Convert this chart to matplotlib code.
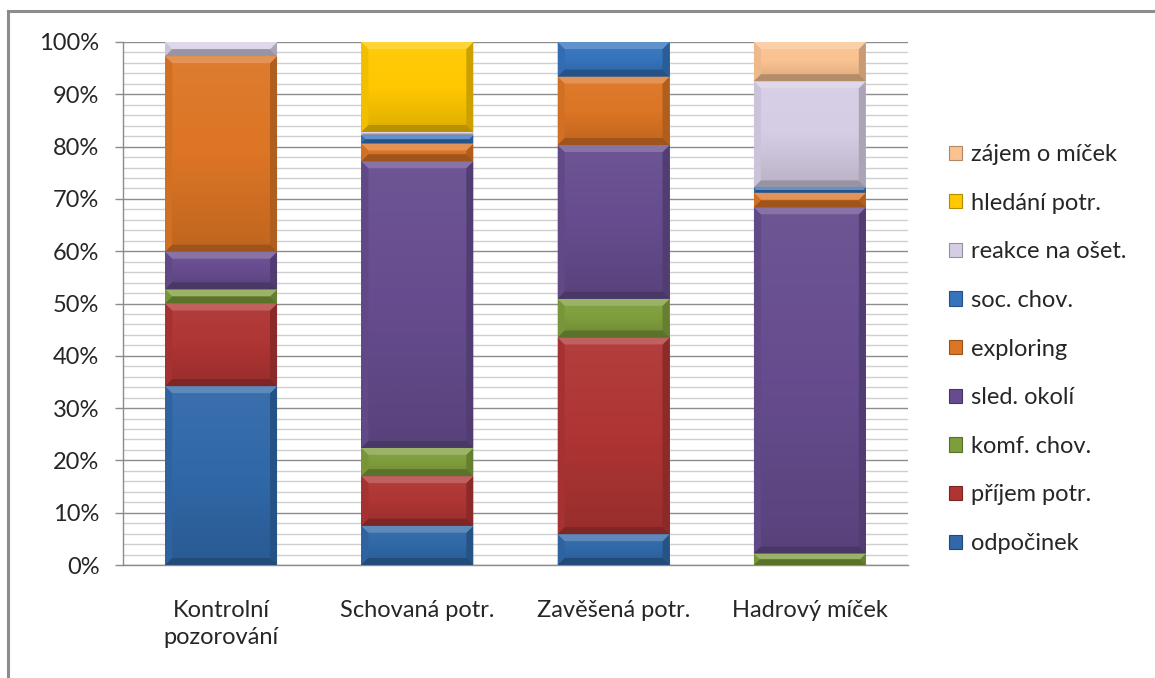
import matplotlib
matplotlib.use("Agg")
import matplotlib.pyplot as plt
import numpy as np
from matplotlib.colors import to_rgb, LinearSegmentedColormap
from matplotlib.patches import Polygon, Patch
from matplotlib.lines import Line2D
from matplotlib.ticker import MultipleLocator

plt.rcParams['font.family'] = ['Lato', 'DejaVu Sans']

categories = ["Kontrolní\npozorování", "Schovaná potr.", "Zavěšená potr.", "Hadrový míček"]

series_names = ["odpočinek", "příjem potr.", "komf. chov.", "sled. okolí", "exploring",
                "soc. chov.", "reakce na ošet.", "hledání potr.", "zájem o míček"]

odpocinek = [34.2, 7.5, 5.9, 0.0]
prijem_potr = [15.8, 9.5, 37.6, 0.0]
komf_chov = [2.7, 5.4, 7.4, 2.2]
sled_okoli = [7.2, 54.8, 29.4, 66.2]
exploring = [37.4, 3.4, 13.1, 2.8]
soc_chov = [0.0, 1.6, 6.6, 1.0]
reakce_na_oset = [2.7, 0.6, 0.0, 20.3]
hledani_potr = [0.0, 17.2, 0.0, 0.0]
zajem_o_micek = [0.0, 0.0, 0.0, 7.5]

series_values = [odpocinek, prijem_potr, komf_chov, sled_okoli, exploring,
                 soc_chov, reakce_na_oset, hledani_potr, zajem_o_micek]

colors = ["#3068A8", "#AE3533", "#7E9E3C", "#664C8E", "#DC7524",
          "#3573BC", "#D5CDE4", "#FFC800", "#FAC291"]

ytick_labels = ["0%", "10%", "20%", "30%", "40%", "50%", "60%", "70%", "80%", "90%", "100%"]


def mix(c, other, t):
    c = np.array(to_rgb(c))
    o = np.array(to_rgb(other))
    return tuple(c * (1 - t) + o * t)


W, H = 1155, 678
fig = plt.figure(figsize=(W / 100, H / 100), dpi=100)
ax = fig.add_axes([123 / W, 1 - 565 / H, (908 - 123) / W, (565 - 42) / H])

x = np.arange(len(categories))
bar_w = 0.57
bottom = np.zeros(len(categories))
containers = []
for vals, col, name in zip(series_values, colors, series_names):
    v = np.array(vals)
    bc = ax.bar(x, v, bar_w, bottom=bottom, color=col, label=name, zorder=3, linewidth=0)
    containers.append((bc, col))
    bottom += v

ax.set_xlim(-0.5, len(categories) - 0.5)
ax.set_ylim(0, 100)

# pixel scale for the bevel decoration
px_x = len(categories) / (908 - 123)
px_y = 100 / (565 - 42)

for bc, col in containers:
    cmap = LinearSegmentedColormap.from_list(
        "g", [mix(col, "black", 0.13), col, mix(col, "white", 0.05)])
    for p in bc.patches:
        x0, y0 = p.get_x(), p.get_y()
        w, h = p.get_width(), p.get_height()
        if h <= 0:
            continue
        x1, y1 = x0 + w, y0 + h
        grad = np.linspace(0, 1, 64).reshape(-1, 1)
        im = ax.imshow(grad, extent=[x0, x1, y0, y1], origin="lower", cmap=cmap,
                       aspect="auto", zorder=3.1, interpolation="bilinear")
        im.set_clip_path(p)
        h_px = h / px_y
        b = min(7.0, h_px / 2.0)
        bx, by = b * px_x, b * px_y
        top = Polygon([(x0, y1), (x1, y1), (x1 - bx, y1 - by), (x0 + bx, y1 - by)],
                      closed=True, facecolor=mix(col, "white", 0.22), edgecolor="none", zorder=3.2)
        bot = Polygon([(x0, y0), (x1, y0), (x1 - bx, y0 + by), (x0 + bx, y0 + by)],
                      closed=True, facecolor=mix(col, "black", 0.28), edgecolor="none", zorder=3.2)
        right = Polygon([(x1, y0), (x1, y1), (x1 - bx, y1 - by), (x1 - bx, y0 + by)],
                        closed=True, facecolor=mix(col, "black", 0.2), edgecolor="none", zorder=3.2)
        left = Polygon([(x0, y0), (x0, y1), (x0 + bx, y1 - by), (x0 + bx, y0 + by)],
                       closed=True, facecolor=mix(col, "black", 0.05), edgecolor="none", zorder=3.2)
        for poly in (right, left, top, bot):
            ax.add_patch(poly)

ax.set_xlim(-0.5, len(categories) - 0.5)
ax.set_ylim(0, 100)

ax.yaxis.set_minor_locator(MultipleLocator(2))
ax.set_yticks(np.arange(0, 101, 10))
ax.set_yticklabels(ytick_labels)
ax.grid(which="major", axis="y", color="#8c8c8c", linewidth=1.0, zorder=0)
ax.grid(which="minor", axis="y", color="#cfcfcf", linewidth=1.0, zorder=0)
ax.set_axisbelow(True)

ax.set_xticks(x)
ax.set_xticklabels(categories, fontsize=17, color="#262626", linespacing=1.35)
ax.tick_params(axis="x", length=0, pad=25)
ax.tick_params(axis="y", which="major", length=6, width=1, color="#8c8c8c",
               labelsize=17, labelcolor="#262626", pad=11)
ax.tick_params(axis="y", which="minor", length=0)

for s in ("top", "right"):
    ax.spines[s].set_visible(False)
for s in ("left", "bottom"):
    ax.spines[s].set_color("#8c8c8c")
    ax.spines[s].set_linewidth(1.0)

handles = [Patch(facecolor=c, edgecolor=mix(c, "black", 0.3), linewidth=0.8) for c in colors]
fig.legend(handles[::-1], series_names[::-1], loc="center left",
           bbox_to_anchor=(949 / W, 1 - 349 / H), frameon=False, fontsize=17,
           handlelength=0.55, handleheight=0.55, handletextpad=0.4,
           labelspacing=1.17, borderpad=0, borderaxespad=0, labelcolor="#262626")

# outer chart frame
fig.add_artist(Line2D([8 / W, 8 / W], [0, 1 - 11 / H], color="#8c8c8c", linewidth=2.2,
                      transform=fig.transFigure))
fig.add_artist(Line2D([8 / W, 1], [1 - 11 / H, 1 - 11 / H], color="#8c8c8c", linewidth=2.2,
                      transform=fig.transFigure))

fig.savefig("out.png", dpi=100, facecolor="white")
